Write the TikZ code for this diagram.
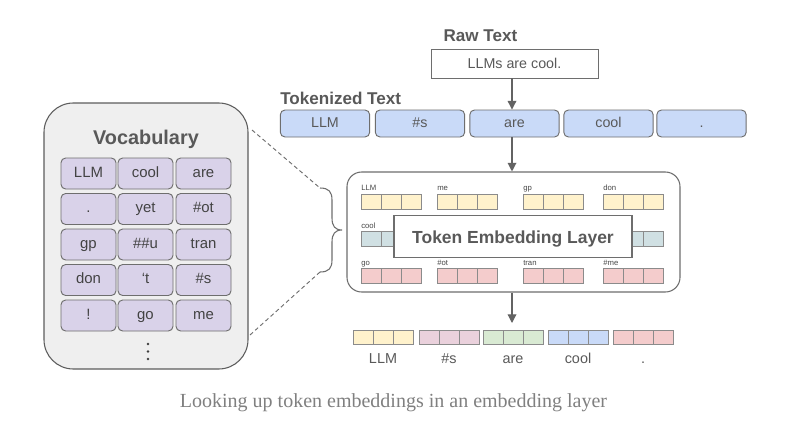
\documentclass[tikz,border=0pt]{standalone}
\usepackage{fontspec}
\setmainfont{Liberation Sans}
\newfontfamily\capfont{Liberation Serif}
\usetikzlibrary{arrows.meta}
\definecolor{txt}{HTML}{595959}
\definecolor{bd}{HTML}{6E6E6E}
\definecolor{tokblue}{HTML}{C9DAF8}
\definecolor{vpurple}{HTML}{D9D2E9}
\definecolor{vgray}{HTML}{EFEFEF}
\definecolor{cyellow}{HTML}{FFF2CC}
\definecolor{cteal}{HTML}{D0E0E3}
\definecolor{cpink}{HTML}{F4CCCC}
\definecolor{cmauve}{HTML}{EAD1DC}
\definecolor{cgreen}{HTML}{D9EAD3}
\definecolor{cblue}{HTML}{C9DAF8}
\newcommand\embvec[5]{%
  \foreach \k in {0,1,2} {%
    \node[cellbox, fill=#4, minimum height=#5] (#1-\k) at ({#2+10+20*\k},#3) {};
  }%
}
\begin{document}
\begin{tikzpicture}[x=0.75pt,y=-0.75pt,
  tok/.style={draw=bd, fill=tokblue, rounded corners=3.5pt, minimum width=67pt,
    minimum height=20.25pt, inner sep=0pt, font=\fontsize{10.7}{12}\selectfont, text=txt, line width=0.7pt,
    text height=7.8pt, text depth=2.2pt},
  vcell/.style={draw=bd, fill=vpurple, rounded corners=3.5pt, minimum width=41.25pt,
    minimum height=23.25pt, inner sep=0pt, font=\fontsize{11.2}{12}\selectfont, text=txt!75!black, line width=0.7pt,
    text height=8.1pt, text depth=2.3pt},
  ttl/.style={font=\fontsize{12.8}{14}\selectfont\bfseries, text=txt, inner sep=0pt},
  cellbox/.style={draw=bd!80, line width=0.6pt, minimum width=15pt, inner sep=0pt},
  lbl/.style={font=\fontsize{5.8}{6}\selectfont, text=txt!80!black, anchor=base west, inner sep=0pt},
  olbl/.style={font=\fontsize{10.8}{12}\selectfont, text=txt, anchor=base, inner sep=0pt},
  arr/.style={draw=bd!90!black, line width=0.9pt, -{Triangle[width=6.5pt,length=6.5pt]}},
  dsh/.style={draw=bd, line width=0.7pt, dash pattern=on 3pt off 2.2pt}
]
\useasboundingbox (0,0) rectangle (804,436);
\fill[white] (0,0) rectangle (804,436);

% Raw text
\node[ttl, anchor=base] (rawlbl) at (480.5,41.7) {Raw Text};
\node[draw=bd, line width=0.7pt, fill=white, minimum width=125.25pt, minimum height=21.75pt, inner sep=0pt,
  font=\fontsize{10.7}{12}\selectfont, text=txt] (raw) at (514.5,63.5) {LLMs are cool.};

% Tokenized
\node[ttl, anchor=base west] (toklbl) at (280,104) {Tokenized Text};
\node[tok] (t1) at (325,123.5) {LLM};
\node[tok] (t2) at (420,123.5) {\#s};
\node[tok] (t3) at (514.5,123.5) {are};
\node[tok] (t4) at (608.5,123.5) {cool};
\node[tok] (t5) at (701.5,123.5) {.};
\draw[arr] (raw.south -| 512,0) -- (t3.north -| 512,0);

% Vocabulary
\node[draw=bd!85!black, fill=vgray, line width=0.8pt, rounded corners=22pt, minimum width=153pt,
  minimum height=199.5pt, inner sep=0pt] (vocab) at (146,236) {};
\node[font=\fontsize{14.9}{16}\selectfont\bfseries, text=txt, anchor=base, inner sep=0pt] (vocabttl) at (146,144) {Vocabulary};
\node[vcell] (v11) at (88.5,173.5) {LLM};
\node[vcell] (v12) at (145.5,173.5) {cool};
\node[vcell] (v13) at (203.5,173.5) {are};
\node[vcell] (v21) at (88.5,209) {.};
\node[vcell] (v22) at (145.5,209) {yet};
\node[vcell] (v23) at (203.5,209) {\#ot};
\node[vcell] (v31) at (88.5,244.5) {gp};
\node[vcell] (v32) at (145.5,244.5) {\#\#u};
\node[vcell] (v33) at (203.5,244.5) {tran};
\node[vcell] (v41) at (88.5,280) {don};
\node[vcell] (v42) at (145.5,280) {‘t};
\node[vcell] (v43) at (203.5,280) {\#s};
\node[vcell] (v51) at (88.5,315.5) {!};
\node[vcell] (v52) at (145.5,315.5) {go};
\node[vcell] (v53) at (203.5,315.5) {me};
\foreach \yy in {344,351.5,359} \fill[txt!70!black] (148,\yy) circle (1.1pt);

% Embedding layer
\node[draw=bd, fill=white, line width=0.8pt, rounded corners=11pt, minimum width=249.75pt,
  minimum height=90pt, inner sep=0pt] (emb) at (513.5,232) {};
\draw[arr] (t3.south -| 512,0) -- (emb.north -| 512,0);

% row 1
\embvec{ra}{361}{201.5}{cyellow}{11.25pt}
\embvec{rb}{437}{201.5}{cyellow}{11.25pt}
\embvec{rc}{523}{201.5}{cyellow}{11.25pt}
\embvec{rd}{603}{201.5}{cyellow}{11.25pt}
\node[lbl] (la) at (361,190.5) {LLM};
\node[lbl] (lb) at (437,190.5) {me};
\node[lbl] (lc) at (523,190.5) {gp};
\node[lbl] (ld) at (603,190.5) {don};
% row 2
\embvec{sa}{361}{239}{cteal}{11.25pt}
\embvec{sd}{603}{239}{cteal}{11.25pt}
\node[lbl] (ma) at (361,228) {cool};
% row 3
\embvec{ua}{361}{276}{cpink}{11.25pt}
\embvec{ub}{437}{276}{cpink}{11.25pt}
\embvec{uc}{523}{276}{cpink}{11.25pt}
\embvec{ud}{603}{276}{cpink}{11.25pt}
\node[lbl] (na) at (361,265.5) {go};
\node[lbl] (nb) at (437,265.5) {\#ot};
\node[lbl] (nc) at (523,265.5) {tran};
\node[lbl] (nd) at (603,265.5) {\#me};

\node[draw=bd, fill=white, line width=0.8pt, minimum width=178.5pt, minimum height=32pt, inner sep=0pt] (tel) at (513,236.5) {};
\node[font=\fontsize{13.1}{15}\selectfont\bfseries, text=txt, anchor=base, inner sep=0pt] (teltxt) at (513,243.5) {Token Embedding Layer};

% brace and dashed lines
\coordinate (bt) at (320,188);
\coordinate (bb) at (320,272);
\coordinate (tip) at (342,230);
\draw[draw=bd, line width=0.8pt] (bt) .. controls (329,188) and (332,192) .. (332,200) -- (332,218)
  .. controls (332,226) and (335,230) .. (tip)
  .. controls (335,230) and (332,234) .. (332,242) -- (332,260)
  .. controls (332,268) and (329,272) .. (bb);
\coordinate (dt) at (252,130);
\coordinate (db) at (250,335);
\draw[dsh] (dt) -- (bt);
\draw[dsh] (db) -- (bb);

% output
\embvec{oa}{353}{337}{cyellow}{10.5pt}
\embvec{ob}{419}{337}{cmauve}{10.5pt}
\embvec{oc}{483}{337}{cgreen}{10.5pt}
\embvec{od}{548}{337}{cblue}{10.5pt}
\embvec{oe}{613}{337}{cpink}{10.5pt}
\coordinate (otip) at (512,323);
\draw[arr] (emb.south -| 512,0) -- (otip);
\node[olbl] (pa) at (383,363) {LLM};
\node[olbl] (pb) at (449,363) {\#s};
\node[olbl] (pc) at (513,363) {are};
\node[olbl] (pd) at (578,363) {cool};
\node[olbl] (pe) at (643,363) {.};

% caption
\node[font=\capfont\fontsize{15}{17}\selectfont, text=black!50, anchor=base, inner sep=0pt] (cap) at (393.5,407) {Looking up token embeddings in an embedding layer};
\end{tikzpicture}
\end{document}
